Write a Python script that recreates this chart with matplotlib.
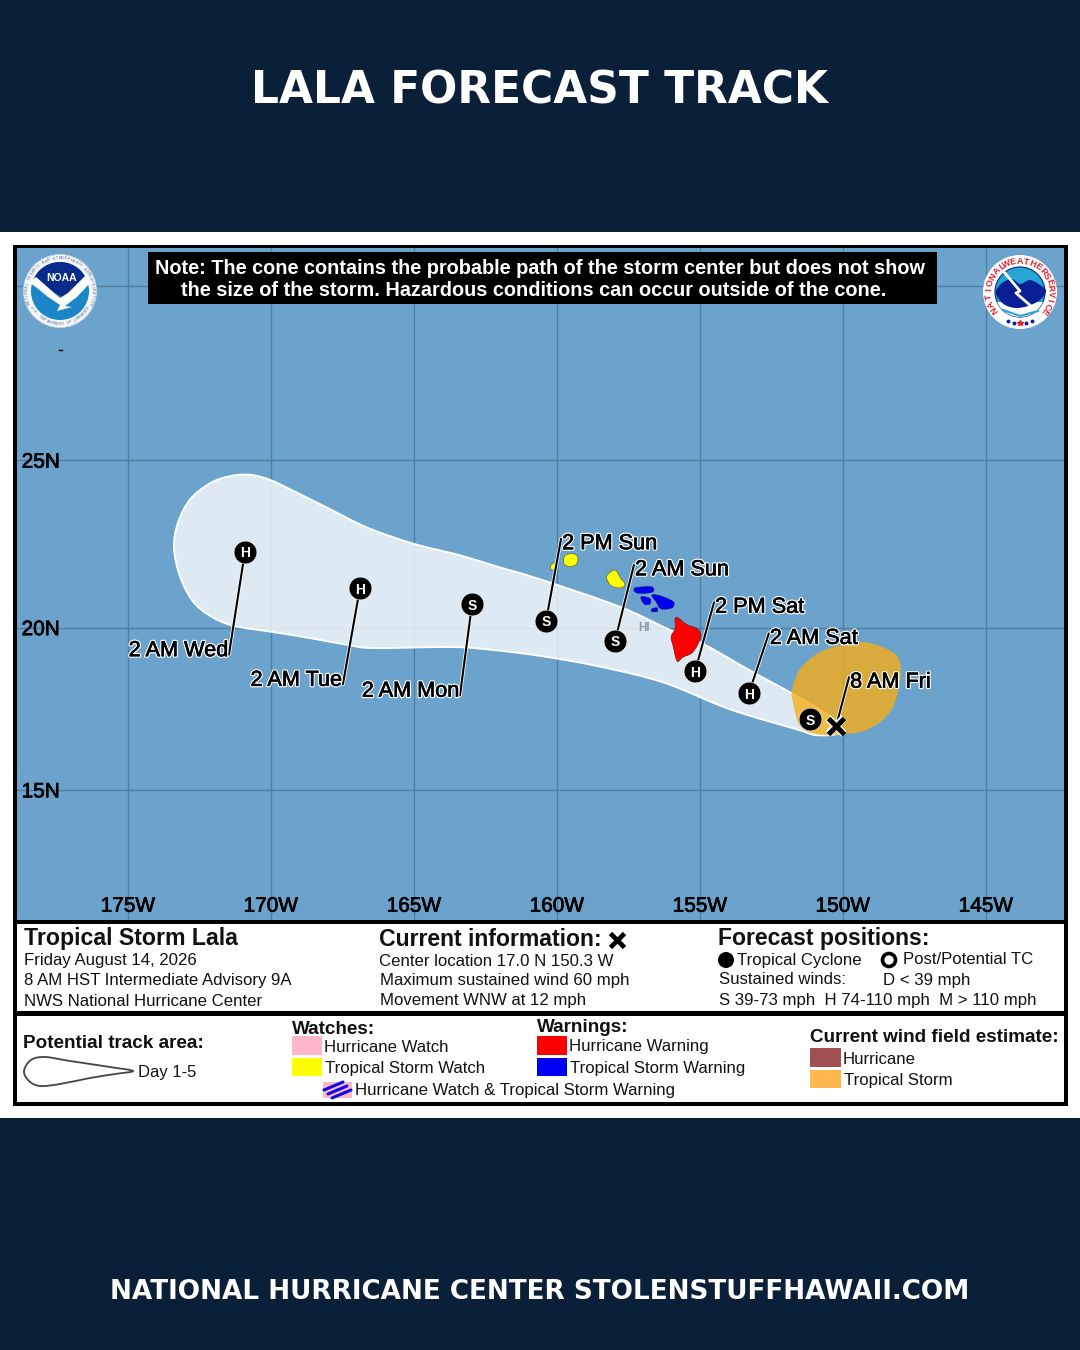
import numpy as np
import matplotlib
matplotlib.use("Agg")
import matplotlib.pyplot as plt
import matplotlib.patheffects as pe
from matplotlib.path import Path
from matplotlib.patches import PathPatch, Polygon, Rectangle, Circle

# ---------- data ----------
title = "LALA FORECAST TRACK"
footer = "NATIONAL HURRICANE CENTER STOLENSTUFFHAWAII.COM"
lon_ticks = [-175, -170, -165, -160, -155, -150, -145]
lon_tick_labels = ["175W", "170W", "165W", "160W", "155W", "150W", "145W"]
lat_ticks = [15, 20, 25, 30]
lat_tick_labels = ["15N", "20N", "25N", ""]

storm_lon = [-170.91, -166.89, -162.97, -160.38, -157.97, -155.17, -153.29, -151.15]
storm_lat = [22.29, 21.19, 20.71, 20.21, 19.60, 18.67, 17.99, 17.19]
storm_cat = ["H", "H", "S", "S", "S", "H", "H", "S"]
storm_time = ["2 AM Wed", "2 AM Tue", "2 AM Mon", "2 PM Sun", "2 AM Sun", "2 PM Sat", "2 AM Sat", ""]
current_lon = -150.24
current_lat = 16.98
current_time = "8 AM Fri"

cone_lon = [-170.73, -170.03, -169.23, -168.04, -166.64, -165.03, -163.39, -162.24, -160.59,
            -157.80, -156.05, -154.90, -153.15, -151.85, -150.45, -150.10,
            -150.91, -151.61, -153.95, -156.29, -158.60, -160.59, -162.24, -163.64,
            -166.43, -167.34, -168.88, -170.03, -171.33, -172.13, -172.73, -173.18,
            -173.39, -173.25, -172.83, -172.13, -171.43]
cone_lat = [24.57, 24.42, 24.10, 23.60, 23.01, 22.53, 22.18, 21.88, 21.46,
            20.63, 19.93, 19.51, 18.64, 18.02, 17.28, 16.79,
            16.70, 16.88, 17.50, 18.33, 18.83, 19.14, 19.32, 19.41,
            19.38, 19.48, 19.72, 19.88, 20.06, 20.36, 20.80, 21.55,
            22.41, 23.15, 23.84, 24.32, 24.53]

wind_lon = [-149.41, -148.71, -148.11, -147.97, -148.08, -148.29, -148.71, -149.30, -150.00,
            -150.91, -151.50, -151.75, -151.78, -151.50, -150.91, -150.21]
wind_lat = [19.57, 19.44, 19.14, 18.64, 18.02, 17.50, 17.10, 16.82, 16.73,
            16.73, 16.98, 17.72, 18.12, 18.73, 19.20, 19.44]

big_island = [(-155.87, 20.27), (-155.77, 20.30), (-155.45, 20.09), (-155.10, 19.97), (-154.97, 19.72),
              (-155.24, 19.26), (-155.59, 19.10), (-155.80, 18.98), (-155.94, 19.44), (-156.01, 19.72),
              (-155.87, 19.97)]
oahu = [(-158.26, 21.55), (-157.97, 21.74), (-157.78, 21.50), (-157.62, 21.31), (-157.80, 21.20), (-158.12, 21.28)]
kauai = [(-159.72, 22.17), (-159.48, 22.23), (-159.30, 22.17), (-159.27, 22.02), (-159.37, 21.88),
         (-159.62, 21.85), (-159.76, 21.96)]
niihau = [(-160.21, 21.88), (-160.07, 21.96), (-160.10, 21.76), (-160.21, 21.76)]
molokai = [(-157.27, 21.20), (-156.68, 21.23), (-156.68, 21.07), (-157.20, 21.05)]
lanai = [(-157.06, 20.93), (-156.75, 20.88), (-156.75, 20.72), (-156.95, 20.72)]
maui = [(-156.68, 20.98), (-156.47, 20.98), (-156.22, 20.91), (-155.92, 20.77), (-155.98, 20.60),
        (-156.36, 20.57), (-156.52, 20.77)]
kahoolawe = [(-156.68, 20.57), (-156.50, 20.60), (-156.50, 20.49), (-156.68, 20.49)]

note_lines = ["Note: The cone contains the probable path of the storm center but does not show",
              "the size of the storm. Hazardous conditions can occur outside of the cone."]

# ---------- style ----------
NAVY = "#0A2038"
OCEAN = "#6CA3CC"
GRID = "#4E7EA0"
SANS = "Liberation Sans"
W, H = 1080, 1350
MAP_L, MAP_R, MAP_T, MAP_B = 17, 1064, 248, 920


def mercator(v):
    v = np.radians(np.clip(v, -85, 85))
    return np.log(np.tan(np.pi / 4 + v / 2))


def inv_mercator(v):
    return np.degrees(2 * np.arctan(np.exp(v)) - np.pi / 2)


def smooth(pts):
    """Closed Catmull-Rom outline through the listed vertices, as Bezier segments."""
    p = np.asarray(pts, float)
    n = len(p)
    verts = [p[0]]
    codes = [Path.MOVETO]
    for i in range(n):
        p0, p1, p2, p3 = p[i - 1], p[i], p[(i + 1) % n], p[(i + 2) % n]
        verts += [p1 + (p2 - p0) / 6, p2 - (p3 - p1) / 6, p2]
        codes += [Path.CURVE4] * 3
    verts.append(p[0])
    codes.append(Path.CLOSEPOLY)
    return Path(verts, codes)


fig = plt.figure(figsize=(W / 100, H / 100), dpi=100, facecolor=NAVY)

# page layer (below the map)
page = fig.add_axes([0, 0, 1, 1], zorder=0)
page.set_xlim(0, W)
page.set_ylim(H, 0)
page.axis("off")
page.add_patch(Rectangle((0, 232), W, 886, fc="white", ec="none"))
page.add_patch(Rectangle((13, 245), 1055, 861, fc="black", ec="none"))
page.add_patch(Rectangle((MAP_L, 924), MAP_R - MAP_L, 87, fc="white", ec="none"))
page.add_patch(Rectangle((MAP_L, 1016), MAP_R - MAP_L, 86, fc="white", ec="none"))
page.text(539.5, 91, title, color="white", fontsize=31.6, fontweight="bold", family="DejaVu Sans",
          ha="center", va="center")
page.text(540, 1292, footer, color="white", fontsize=18.95, fontweight="bold", family="DejaVu Sans",
          ha="center", va="center")

# map layer
ax = fig.add_axes([MAP_L / W, 1 - MAP_B / H, (MAP_R - MAP_L) / W, (MAP_B - MAP_T) / H], zorder=1)
ax.set_facecolor(OCEAN)
ax.set_yscale("function", functions=(mercator, inv_mercator))
ax.set_xlim(-178.88, -142.27)
ax.set_ylim(10.90, 31.05)
ax.set_xticks(lon_ticks, lon_tick_labels)
ax.set_yticks(lat_ticks, lat_tick_labels)
ax.minorticks_off()
ax.grid(True, color=GRID, lw=1.0, zorder=1)
ax.set_axisbelow(True)
for s in ax.spines.values():
    s.set_visible(False)
ax.tick_params(axis="both", length=0)
ax.tick_params(axis="x", pad=-16.8, labelsize=15)
ax.tick_params(axis="y", pad=-31, labelsize=15)
bold_fx = [pe.withStroke(linewidth=0.5, foreground="black")]
for t in ax.get_xticklabels() + ax.get_yticklabels():
    t.set_family(SANS)
    t.set_color("black")
    t.set_path_effects(bold_fx)

ax.add_patch(PathPatch(smooth(list(zip(cone_lon, cone_lat))), fc=(1, 1, 1, 0.78), ec="white", lw=1.4, zorder=2))
for isl, col, edge in [(big_island, "#FF0000", "#552222"), (oahu, "#FFFF00", "#555522"), (kauai, "#FFFF00", "#555522"),
                       (niihau, "#FFFF00", "#555522"), (molokai, "#0000F0", "#00008A"), (lanai, "#0000F0", "#00008A"),
                       (maui, "#0000F0", "#00008A"), (kahoolawe, "#0000F0", "#00008A")]:
    ax.add_patch(PathPatch(smooth(isl), fc=col, ec=edge, lw=0.4, zorder=3))
ax.add_patch(PathPatch(smooth(list(zip(wind_lon, wind_lat))), fc=(245 / 255, 174 / 255, 24 / 255, 0.8), ec="none", zorder=4))
ax.text(-156.96, 20.0, "HI", color="#8C98A4", fontsize=8.5, fontweight="bold", family=SANS,
        ha="center", va="center", zorder=3)

# leader lines and labels (label offset from each point, in pixels)
label_offsets = [(-16, -103), (-17, -96), (-12, -91), (15, 82), (19, 76), (19, 69), (20, 60), (13, 49)]
label_lons = storm_lon[:7] + [current_lon]
label_lats = storm_lat[:7] + [current_lat]
label_text = storm_time[:7] + [current_time]
line_fx = [pe.withStroke(linewidth=2.6, foreground="white")]
text_fx = [pe.Stroke(linewidth=2.2, foreground="white"), pe.Stroke(linewidth=0.5, foreground="black"), pe.Normal()]
for lo, la, lab, (dx, dy) in zip(label_lons, label_lats, label_text, label_offsets):
    x0, y0 = ax.transData.transform((lo, la))
    x1, y1 = ax.transData.inverted().transform((x0 + dx, y0 + dy))
    ax.plot([lo, x1], [la, y1], color="black", lw=1.5, solid_capstyle="round", path_effects=line_fx, zorder=5)
    right = dx < 0
    ox = -1 if right else 1
    oy = 4 if dy < 0 else -5
    ann = ax.annotate(lab, (x1, y1), xytext=(ox, oy), textcoords="offset pixels",
                      ha="right" if right else "left", va="center", fontsize=15.6, family=SANS, color="black",
                      path_effects=text_fx, zorder=7)

ax.scatter(storm_lon, storm_lat, s=270, c="black", edgecolors="white", linewidths=0.4, zorder=6)
for lo, la, c in zip(storm_lon, storm_lat, storm_cat):
    ax.text(lo, la, c, color="white", fontsize=10, fontweight="bold", family=SANS,
            ha="center", va="center_baseline", zorder=7)
ax.plot([current_lon], [current_lat], marker="x", ms=11, mew=3.6, color="black", ls="none",
        path_effects=[pe.withStroke(linewidth=5.5, foreground="white")], zorder=7)

# overlay layer: note, logos, legend panel
top = fig.add_axes([0, 0, 1, 1], zorder=2)
top.set_xlim(0, W)
top.set_ylim(H, 0)
top.axis("off")
top.patch.set_alpha(0)

top.add_patch(Rectangle((148, 252), 789, 52, fc="black", ec="none"))
top.text(540, 269, note_lines[0], color="white", fontsize=14.35, fontweight="bold", family=SANS, ha="center", va="center")
top.text(534, 291, note_lines[1], color="white", fontsize=14.35, fontweight="bold", family=SANS, ha="center", va="center")
top.plot([59, 62], [349.5, 349.5], color="black", lw=1)


def ring_text(ax_, cx, cy, r, s, a_start, a_end, flip=False, **kw):
    """Characters laid around a circle; angles in degrees, clockwise from north."""
    for ch, a in zip(s, np.linspace(a_start, a_end, len(s))):
        th = np.radians(a)
        rot = 180 - a if flip else -a
        ax_.text(cx + r * np.sin(th), cy - r * np.cos(th), ch, rotation=rot, rotation_mode="anchor",
                 ha="center", va="center", family=SANS, fontweight="bold", **kw)


# NOAA logo
ncx, ncy = 60, 291
top.add_patch(Circle((ncx, ncy), 36.5, fc="#F4F6F8", ec="#C9D6E2", lw=0.6))
disc = Circle((ncx, ncy), 29, fc="#1A86C8", ec="none")
top.add_patch(disc)
navy_poly = Polygon([(34, 276), (46, 262), (62, 258), (78, 262), (90, 276), (78, 287), (68, 295), (62, 297), (53, 292), (43, 283)],
                    closed=True, fc="#0B2B8A", ec="none")
top.add_patch(navy_poly)
navy_poly.set_clip_path(disc)
bird = Polygon([(30, 283), (36, 277), (45, 285), (60, 298), (68, 293), (85, 276), (90, 283), (77, 297), (65, 306), (72, 307), (57, 311), (60, 305), (48, 297), (37, 288)],
               closed=True, fc="white", ec="none")
top.add_patch(bird)
top.text(61.5, 278, "NOAA", color="white", fontsize=7.5, fontweight="bold", family=SANS, ha="center", va="center")
ring_text(top, ncx, ncy, 32.8, "NATIONAL OCEANIC AND ATMOSPHERIC ADMINISTRATION", -112, 112, fontsize=2.6, color="#7F94AC")
ring_text(top, ncx, ncy, 32.8, "U.S. DEPARTMENT OF COMMERCE", 240, 120, flip=True, fontsize=2.6, color="#7F94AC")

# NWS logo
wcx, wcy = 1020, 292
top.add_patch(Circle((wcx, wcy), 37, fc="white", ec="none"))
inner = Circle((wcx, wcy), 25, fc="#27A4D6", ec="#0A2A80", lw=0.8)
top.add_patch(inner)
low = Rectangle((990, 302), 60, 30, fc="white", ec="none")
top.add_patch(low)
low.set_clip_path(inner)
cloud = PathPatch(smooth([(996, 291), (1002, 283), (1012, 279), (1020, 284), (1030, 280), (1040, 285), (1046, 291),
                          (1040, 300), (1028, 306), (1016, 308), (1005, 305), (998, 298)]),
                  fc="#0A1E96", ec="none")
top.add_patch(cloud)
top.plot([1004, 1020, 1016, 1039], [272, 291, 293, 313], color="white", lw=2.0)
top.plot([1003, 1020, 1038], [310, 316, 311], color="#27A4D6", lw=1.5)
ring_text(top, wcx, wcy, 31, "NATIONAL", -125, -35, fontsize=6.4, color="#E0202A")
ring_text(top, wcx, wcy, 31, "WEATHER", -25, 48, fontsize=6.4, color="#E0202A")
ring_text(top, wcx, wcy, 31, "SERVICE", 60, 128, fontsize=6.4, color="#E0202A")
top.plot([1008, 1014, 1026, 1032], [321, 322.5, 322.5, 321], ls="none", marker="o", ms=1.8, color="#0A1E96")
top.plot([1020], [323], ls="none", marker="*", ms=4, color="#E0202A")


def label(x, y, s, size=12.05, weight="normal", **kw):
    top.text(x, y + 1, s, fontsize=size, fontweight=weight, family=SANS, color="#111111", ha="left", va="center", **kw)


# info panel
label(24, 938, "Tropical Storm Lala", 16.7, "bold")
label(24, 959, "Friday August 14, 2026")
label(24, 979, "8 AM HST Intermediate Advisory 9A")
label(24, 1000, "NWS National Hurricane Center")
label(379, 939, "Current information:", 16.6, "bold")
top.plot([617], [940], marker="x", ms=10, mew=3.4, color="black", ls="none")
label(379, 960, "Center location 17.0 N 150.3 W")
label(380, 979, "Maximum sustained wind 60 mph")
label(380, 999, "Movement WNW at 12 mph")
label(718, 938, "Forecast positions:", 16.6, "bold")
top.add_patch(Circle((726, 960), 8, fc="black", ec="none"))
label(737, 959, "Tropical Cyclone")
top.add_patch(Circle((889, 960), 6.5, fc="white", ec="black", lw=2.6))
label(903, 959, "Post/Potential TC")
label(719, 978, "Sustained winds:")
label(883, 979, "D < 39 mph")
label(719, 999, "S 39-73 mph  H 74-110 mph  M > 110 mph")

# legend panel
label(23, 1043, "Potential track area:", 13.55, "bold")
top.add_patch(PathPatch(smooth([(133, 1071), (110, 1067), (70, 1061), (45, 1057), (31, 1060), (24, 1071), (29, 1081), (40, 1086),
                                (60, 1084), (90, 1078), (115, 1074)]), fc="white", ec="#444444", lw=1.3))
label(138, 1071, "Day 1-5", 12)
label(292, 1029, "Watches:", 13.6, "bold")
top.add_patch(Rectangle((292, 1036), 30, 19, fc="#FFB6C6", ec="none"))
label(324, 1046, "Hurricane Watch")
top.add_patch(Rectangle((292, 1058), 30, 18, fc="#FFFF00", ec="none"))
label(325, 1067, "Tropical Storm Watch")
top.add_patch(Rectangle((323, 1082), 29, 16, fc="#FFB6C6", ec="none"))
for dy in (-4, 0, 4):
    top.plot([328 + dy, 347 + dy], [1094 + dy, 1086 + dy], color="#0A0AE6", lw=2.2, solid_capstyle="round")
label(355, 1089, "Hurricane Watch & Tropical Storm Warning")
label(537, 1027, "Warnings:", 13.6, "bold")
top.add_patch(Rectangle((537, 1036), 30, 19, fc="#FF0000", ec="none"))
label(569, 1045, "Hurricane Warning")
top.add_patch(Rectangle((537, 1058), 30, 18, fc="#0000F5", ec="none"))
label(570, 1067, "Tropical Storm Warning")
label(810, 1037, "Current wind field estimate:", 13.55, "bold")
top.add_patch(Rectangle((810, 1048), 31, 19, fc="#A04F52", ec="none"))
label(843, 1058, "Hurricane")
top.add_patch(Rectangle((810, 1070), 31, 18, fc="#FFB84D", ec="none"))
label(844, 1079, "Tropical Storm")

fig.savefig("out.png", dpi=100, facecolor=NAVY)
